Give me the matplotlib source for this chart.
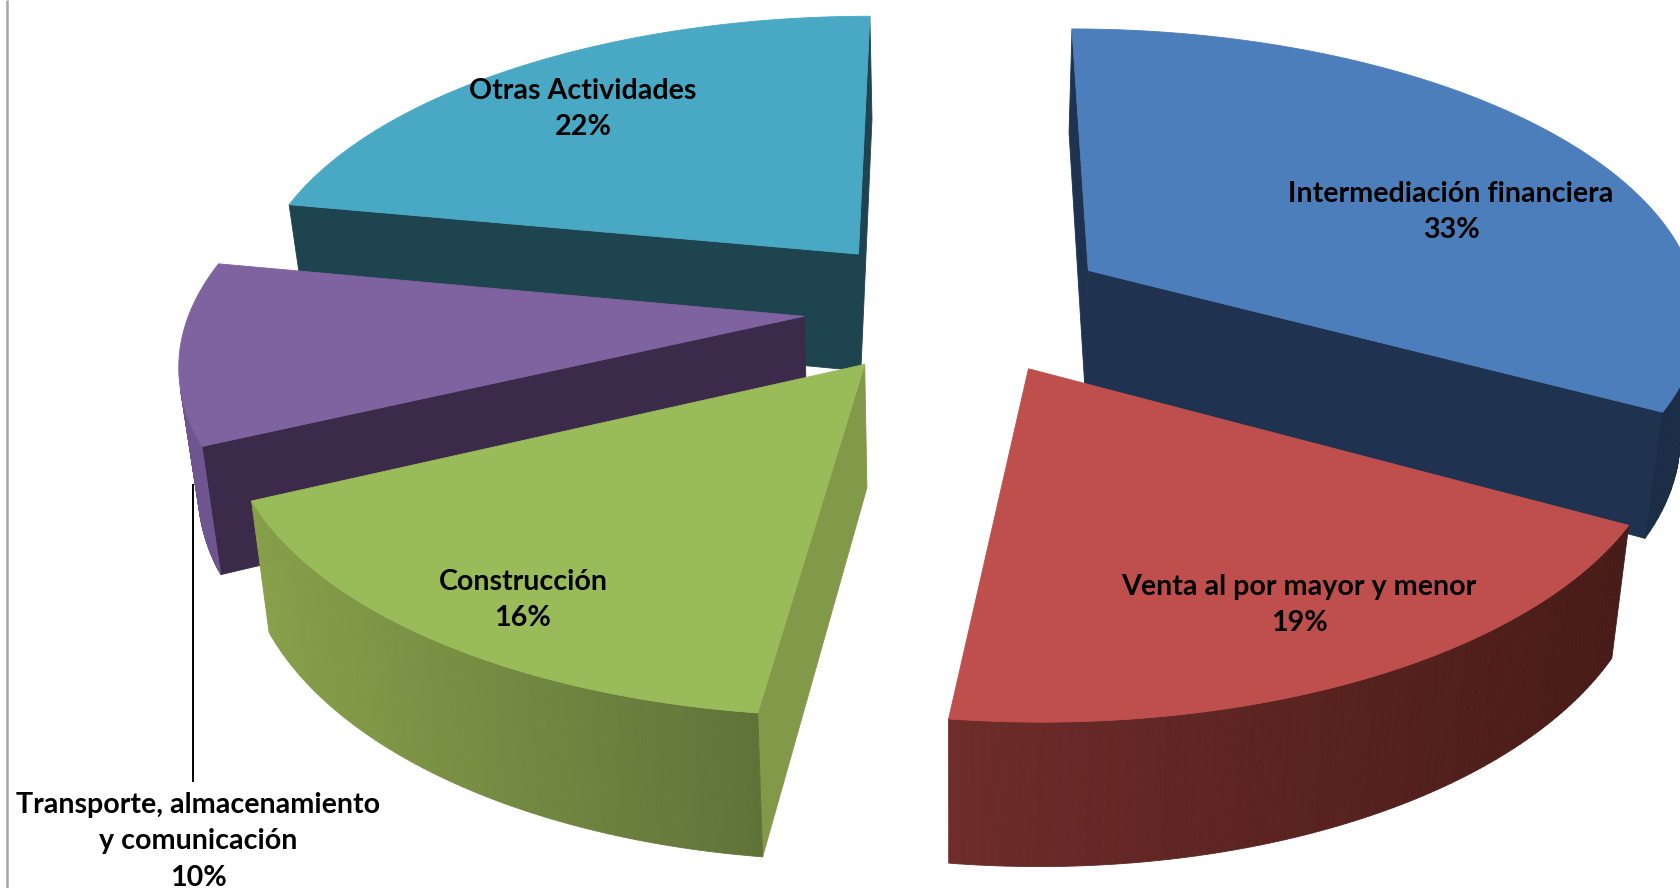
import numpy as np
import matplotlib
matplotlib.use("Agg")
import matplotlib.pyplot as plt
from matplotlib.patches import Polygon
from matplotlib.colors import to_rgb

categories = ["Intermediación financiera", "Venta al por mayor y menor", "Construcción",
              "Transporte, almacenamiento\ny comunicación", "Otras Actividades"]
shares = [33, 19, 16, 10, 22]
explode = [0.26, 0.24, 0.24, 0.245, 0.25]
explode_tilt_deg = [0, -2.6, 0, 0, 0]

top_colors = ["#4C7EBB", "#BE4F4C", "#9ABB59", "#7F62A0", "#49A9C5"]
cut_colors = ["#1F3350", "#5A2421", "#83994A", "#3C2A4A", "#1E4450"]
arc_left = ["#1F3350", "#6E2C2A", "#87A04A", "#6F5590", "#1E4450"]
arc_right = ["#1B2C46", "#471B17", "#5F7339", "#6F5590", "#1E4450"]
label_xy = [(1451, 212), (1299, 605), (523, 600), (198, 841), (583, 109)]
draw_order = [4, 0, 3, 2, 1]

CX, CY, A, B, P, DEPTH, SHRINK = 953.6, 307.5, 613.0, 285.0, 0.14, 120.0, 0.975


def project(x, y):
    w = 1 + P * y
    return CX + A * x / w, CY - B * y / w, w


def both(x, y):
    u, v, w = project(x, y)
    return (u, v), (CX + (u - CX) * SHRINK, v + DEPTH / w)


def visible(q):
    q = np.array(q)
    x, y = q[:, 0], q[:, 1]
    return 0.5 * np.sum(x * np.roll(y, -1) - np.roll(x, -1) * y) < 0


fig = plt.figure(figsize=(16.8, 8.88), dpi=100, facecolor="white")
ax = fig.add_axes([0, 0, 1, 1])
ax.set_xlim(0, 1680)
ax.set_ylim(888, 0)
ax.axis("off")

edges = np.concatenate([[0], np.cumsum(shares)]) / np.sum(shares) * 2 * np.pi


def add(q, c):
    ax.add_patch(Polygon(q, closed=True, facecolor=c, edgecolor=c, lw=0.6, joinstyle="round"))


for i in draw_order:
    a0, a1 = edges[i], edges[i + 1]
    mid = (a0 + a1) / 2 + np.radians(explode_tilt_deg[i])
    ox, oy = explode[i] * np.sin(mid), explode[i] * np.cos(mid)
    ts = np.linspace(a0, a1, 90)
    xs, ys = ox + np.sin(ts), oy + np.cos(ts)
    tops, bots = zip(*[both(x, y) for x, y in zip(xs, ys)])
    atop, abot = both(ox, oy)
    # radial cut faces
    for q in ([atop, tops[0], bots[0], abot], [tops[-1], atop, abot, bots[-1]]):
        if visible(q):
            add(q, cut_colors[i])
    # outer curved face with left to right shading
    cl, cr = np.array(to_rgb(arc_left[i])), np.array(to_rgb(arc_right[i]))
    us = np.array([t[0] for t in tops])
    for k in range(len(ts) - 1):
        q = [tops[k], tops[k + 1], bots[k + 1], bots[k]]
        if visible(q):
            f = ((us[k] + us[k + 1]) / 2 - us.min()) / (us.max() - us.min())
            add(q, tuple(cl + (cr - cl) * f))
    add([atop] + list(tops), top_colors[i])

for name, val, (x, y) in zip(categories, shares, label_xy):
    ax.text(x, y, f"{name}\n{val}%", ha="center", va="center", fontsize=20.6,
            family="Lato", fontweight="bold", color="black", linespacing=1.5)

ax.plot([193, 193], [484, 782], color="black", lw=1.4, solid_capstyle="butt")
ax.plot([6.5, 6.5], [0, 888], color="#A6A6A6", lw=1.8, solid_capstyle="butt")

fig.savefig("out.png", dpi=100, facecolor="white")
